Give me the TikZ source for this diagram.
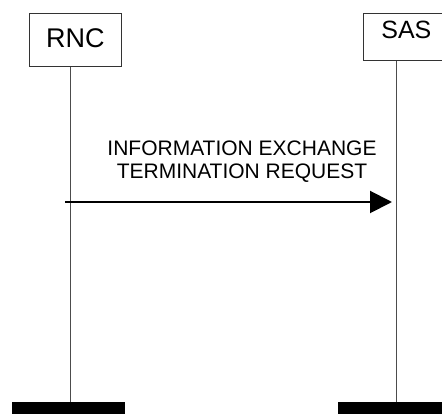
\documentclass[tikz,border=0pt]{standalone}
\usepackage{fontspec}
\setmainfont{Liberation Sans}
\usetikzlibrary{arrows.meta}
\begin{document}
\begin{tikzpicture}[x=1pt,y=-1pt,
  entity/.style={draw=black!80, line width=0.8pt, fill=white, inner sep=0pt, anchor=north west},
  lifeline/.style={draw=black!70, line width=0.9pt},
  stopbar/.style={fill=black, draw=none, inner sep=0pt, anchor=north west},
  msg/.style={line width=2pt, -{Triangle[length=22pt,width=22pt]}},
  lbl/.style={font=\fontsize{21}{23}\selectfont, align=center, inner sep=0pt}]
\useasboundingbox (0,0) rectangle (442,414);
% entities
\node[entity, minimum width=92pt, minimum height=53pt,
      font=\fontsize{27}{27}\selectfont, text height=19.5pt, text depth=5pt] (rnc) at (29,13) {RNC};
\node[entity, minimum width=86pt, minimum height=47pt,
      font=\fontsize{25}{25}\selectfont, text height=18pt, text depth=15pt] (sas) at (363,13) {SAS};
% stop bars
\node[stopbar, minimum width=113pt, minimum height=14pt] (rncend) at (12,402) {};
\node[stopbar, minimum width=112pt, minimum height=14pt] (sasend) at (338,402) {};
% lifeline positions
\coordinate (rncx) at (70,0);
\coordinate (sasx) at (396,0);
\draw[lifeline] (rnc.south -| rncx) -- (rncend.north -| rncx);
\draw[lifeline] (sas.south -| sasx) -- (sasend.north -| sasx);
% message
\coordinate (m1s) at (65,202);
\coordinate (m1e) at (392,202);
\draw[msg] (m1s) -- (m1e);
\node[lbl, anchor=north] (m1l) at (242,140.5) {INFORMATION EXCHANGE\\TERMINATION REQUEST};
\end{tikzpicture}
\end{document}
